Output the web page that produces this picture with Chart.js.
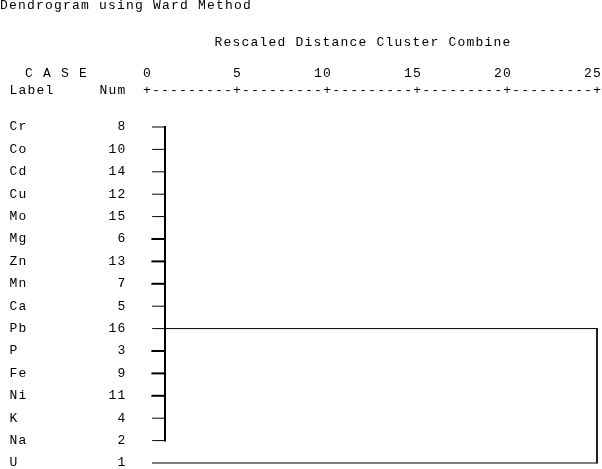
<!DOCTYPE html>
<html><head><meta charset="utf-8">
<script src="https://cdn.jsdelivr.net/npm/chart.js@4.4.1/dist/chart.umd.min.js"></script>
<style>html,body{margin:0;padding:0;background:#fff;}canvas{display:block;}</style>
</head><body>
<canvas id="c" width="602" height="469"></canvas>
<script>
// ---- text ----
const chartTitle = 'Dendrogram using Ward Method';
const axisTitle = 'Rescaled Distance Cluster Combine';
const caseHeader = 'C A S E';
const labelHeader = 'Label';
const numHeader = 'Num';

// ---- data ----
const caseLabels = ['Cr','Co','Cd','Cu','Mo','Mg','Zn','Mn','Ca','Pb','P','Fe','Ni','K','Na','U'];
const caseNums   = [8, 10, 14, 12, 15, 6, 13, 7, 5, 16, 3, 9, 11, 4, 2, 1];
const distanceTicks = [0, 5, 10, 15, 20, 25];
const clusterRows = [0,1,2,3,4,5,6,7,8,9,10,11,12,13,14]; // Cr ... Na
const clusterJoinDistance = 1.0;
const clusterAttachRow = 9;   // Pb row carries the cluster link
const outlierRow = 15;        // U
const finalJoinDistance = 25;
const leafStart = 0.3;

// ---- style ----
const thickLeafRows = [5,6,7,10,11,12];
const FAMILY = "'Liberation Mono', monospace";
const LS = '1.2px';
const font = {family: FAMILY, size: 13, lineHeight: 1.2, weight: 'normal'};

const datasets = [];
function seg(points, width) {
  datasets.push({data: points, showLine: true, borderColor: '#000', borderWidth: width,
    pointRadius: 0, pointHoverRadius: 0, fill: false, clip: false, tension: 0, borderCapStyle: 'square'});
}
clusterRows.forEach(r => seg([{x: leafStart, y: r}, {x: clusterJoinDistance, y: r}], thickLeafRows.includes(r) ? 2 : 1));
seg([{x: clusterJoinDistance, y: clusterRows[0]}, {x: clusterJoinDistance, y: clusterRows[clusterRows.length - 1]}], 2);
seg([{x: clusterJoinDistance, y: clusterAttachRow}, {x: finalJoinDistance, y: clusterAttachRow}], 1);
seg([{x: leafStart, y: outlierRow}, {x: finalJoinDistance, y: outlierRow}], 1);
seg([{x: finalJoinDistance, y: clusterAttachRow}, {x: finalJoinDistance, y: outlierRow}], 1);

const headerPlugin = {
  id: 'headers',
  beforeInit(chart) { chart.ctx.letterSpacing = LS; },
  beforeLayout(chart) { chart.ctx.letterSpacing = LS; },
  beforeDraw(chart) { chart.ctx.letterSpacing = LS; },
  afterDraw(chart) {
    const ctx = chart.ctx, xs = chart.scales.x, ys = chart.scales.y;
    ctx.save();
    ctx.letterSpacing = LS;
    ctx.font = '13px ' + FAMILY;
    ctx.fillStyle = '#000';
    ctx.textBaseline = 'middle';
    // ruler "+---------+..."
    const ruler = distanceTicks.map(() => '+').join('-'.repeat(9));
    ctx.textAlign = 'left';
    ctx.fillText(ruler, xs.getPixelForValue(distanceTicks[0]) - 3.9, chart.chartArea.top - 2.4);
    // case headers
    const anchor = ys.right - ys.options.ticks.padding;
    ctx.textAlign = 'right';
    ctx.fillText(labelHeader.padEnd(10) + numHeader, anchor, chart.chartArea.top - 2.6);
    ctx.textAlign = 'left';
    ctx.fillText(caseHeader, anchor - 13 * 9 + 15.4, 74);
    ctx.restore();
  }
};

new Chart(document.getElementById('c'), {
  type: 'scatter',
  data: {datasets},
  options: {
    responsive: false,
    animation: false,
    events: [],
    devicePixelRatio: 1,
    layout: {padding: {top: 0, left: 0, right: 5, bottom: 0.4}},
    plugins: {
      legend: {display: false},
      tooltip: {enabled: false},
      title: {display: true, text: chartTitle, align: 'start', color: '#000',
        font: {family: FAMILY, size: 13, lineHeight: 11 / 13, weight: 'normal'}, padding: 0}
    },
    scales: {
      x: {
        type: 'linear', position: 'top', min: 0, max: 25,
        afterBuildTicks: s => { s.ticks = distanceTicks.map(v => ({value: v})); },
        ticks: {color: '#000', font, align: 'end', labelOffset: 5.1, padding: 11.6, maxRotation: 0, autoSkip: false},
        grid: {display: false, drawTicks: false},
        border: {display: false},
        title: {display: true, text: axisTitle + '  ', color: '#000', font, padding: {top: 23.8, bottom: 0}},
        afterFit: s => { s.height = 82.4; s.paddingLeft = 0; s.paddingRight = 0; }
      },
      y: {
        type: 'linear', reverse: true, min: -1.5, max: 15.25,
        afterBuildTicks: s => { s.ticks = caseLabels.map((_, i) => ({value: i})); },
        ticks: {color: '#000', font, padding: 20.4, autoSkip: false, crossAlign: 'near',
          callback: v => caseLabels[v].padEnd(11) + String(caseNums[v]).padStart(2)},
        grid: {display: false, drawTicks: false},
        border: {display: false},
        afterFit: s => { s.width = 147; s.paddingTop = 0; s.paddingBottom = 0; }
      }
    }
  },
  plugins: [headerPlugin]
});
</script>
</body></html>
